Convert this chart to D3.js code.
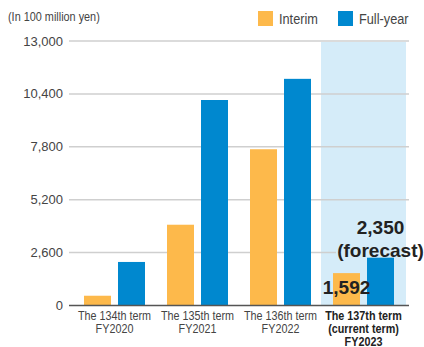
<!DOCTYPE html>
<html>
<head>
<meta charset="utf-8">
<script src="https://cdn.jsdelivr.net/npm/d3@7"></script>
<style>
  body { margin: 0; background: #fff; }
  svg { display: block; font-family: "Liberation Sans", Arial, sans-serif; }
</style>
</head>
<body>
<div id="chart"></div>
<script>
const terms = ['The 134th term', 'The 135th term', 'The 136th term', 'The 137th term'];
const termSub = [['FY2020'], ['FY2021'], ['FY2022'], ['(current term)', 'FY2023']];
const interim = [480, 3970, 7680, 1592];
const fullYear = [2140, 10100, 11140, 2350];
const yTicks = [0, 2600, 5200, 7800, 10400, 13000];
const seriesNames = ['Interim', 'Full-year'];

const width = 424, height = 347;
const colors = { interim: '#fdb94b', full: '#0088cf', band: '#d5ecf9' };
const narrow = 0.83; // squeeze for the condensed face of the original

const svg = d3.select('#chart').append('svg')
    .attr('width', width)
    .attr('height', height);

const x = d3.scaleBand().domain(terms).range([73, 405]).paddingInner(0);
const y = d3.scaleLinear().domain([0, 13000]).range([305.5, 41]);

// condensed text helper
const narrowText = (parent, tx, ty, sx) => parent.append('g')
    .attr('transform', 'translate(' + tx + ',' + ty + ') scale(' + sx + ',1)')
    .append('text');

// highlight for current term
svg.append('rect')
    .attr('x', x(terms[3]) - 1)
    .attr('y', y(13000) + 1)
    .attr('width', x.bandwidth() + 2)
    .attr('height', y(0) - y(13000) - 1)
    .attr('fill', colors.band);

// gridlines
svg.append('g')
    .selectAll('line')
    .data(yTicks.slice(1))
    .enter().append('line')
    .attr('x1', 69).attr('x2', 409)
    .attr('y1', d => y(d)).attr('y2', d => y(d))
    .attr('stroke', '#cfcfcf')
    .attr('stroke-width', 1.5);

// y tick labels
svg.append('g')
    .selectAll('text')
    .data(yTicks)
    .enter().append('text')
    .attr('x', 63)
    .attr('y', d => y(d) + 4.5)
    .attr('text-anchor', 'end')
    .attr('font-size', 13)
    .attr('fill', '#444')
    .text(d => d3.format(',')(d));

// bars
const barW = 27;
const groups = svg.append('g')
    .selectAll('g')
    .data(terms)
    .enter().append('g')
    .attr('transform', d => 'translate(' + x(d) + ',0)');

groups.append('rect')
    .attr('x', 11)
    .attr('y', (d, i) => y(interim[i]))
    .attr('width', barW)
    .attr('height', (d, i) => y(0) - y(interim[i]))
    .attr('fill', colors.interim);

groups.append('rect')
    .attr('x', 45)
    .attr('y', (d, i) => y(fullYear[i]))
    .attr('width', barW)
    .attr('height', (d, i) => y(0) - y(fullYear[i]))
    .attr('fill', colors.full);

// zero line
svg.append('line')
    .attr('x1', 69).attr('x2', 409)
    .attr('y1', y(0)).attr('y2', y(0))
    .attr('stroke', '#555')
    .attr('stroke-width', 1.5);

// x labels
groups.each(function (d, i) {
    const t = narrowText(d3.select(this), x.bandwidth() / 2, 0, narrow)
        .attr('text-anchor', 'middle')
        .attr('font-size', 13)
        .attr('fill', i === 3 ? '#222' : '#444')
        .attr('font-weight', i === 3 ? 'bold' : 'normal');
    const lines = [d].concat(termSub[i]);
    lines.forEach((s, k) => {
        t.append('tspan')
            .attr('x', 0)
            .attr('y', 320 + k * 13)
            .text(s);
    });
});

// value labels for current term
const cx = x(terms[3]);
svg.append('rect')
    .attr('x', cx + 14).attr('y', 234)
    .attr('width', x.bandwidth() + 1 - 14).attr('height', 20)
    .attr('fill', colors.band);
svg.append('text')
    .attr('x', cx + 45 + barW / 2)
    .attr('y', y(fullYear[3]) - 24)
    .attr('text-anchor', 'middle')
    .attr('font-weight', 'bold')
    .attr('font-size', 19)
    .attr('fill', '#222')
    .text(d3.format(',')(fullYear[3]));
svg.append('text')
    .attr('x', cx + 45 + barW / 2)
    .attr('y', y(fullYear[3]) - 1)
    .attr('text-anchor', 'middle')
    .attr('font-weight', 'bold')
    .attr('font-size', 19)
    .attr('fill', '#222')
    .text('(forecast)');
svg.append('text')
    .attr('x', cx + 11 + barW / 2)
    .attr('y', 294)
    .attr('text-anchor', 'middle')
    .attr('font-weight', 'bold')
    .attr('font-size', 19)
    .attr('fill', '#222')
    .text(d3.format(',')(interim[3]));

// unit title
narrowText(svg, 8, 21, 0.87)
    .attr('font-size', 12.5)
    .attr('fill', '#444')
    .text('(In 100 million yen)');

// legend
const legend = svg.append('g')
    .selectAll('g')
    .data(seriesNames)
    .enter().append('g')
    .attr('transform', (d, i) => 'translate(' + (i === 0 ? 258 : 338) + ',11)');
legend.append('rect')
    .attr('width', 15).attr('height', 15)
    .attr('fill', (d, i) => i === 0 ? colors.interim : colors.full);
legend.each(function (d) {
    narrowText(d3.select(this), 21, 13, 0.85)
        .attr('font-size', 15)
        .attr('fill', '#444')
        .text(d);
});
</script>
</body>
</html>
